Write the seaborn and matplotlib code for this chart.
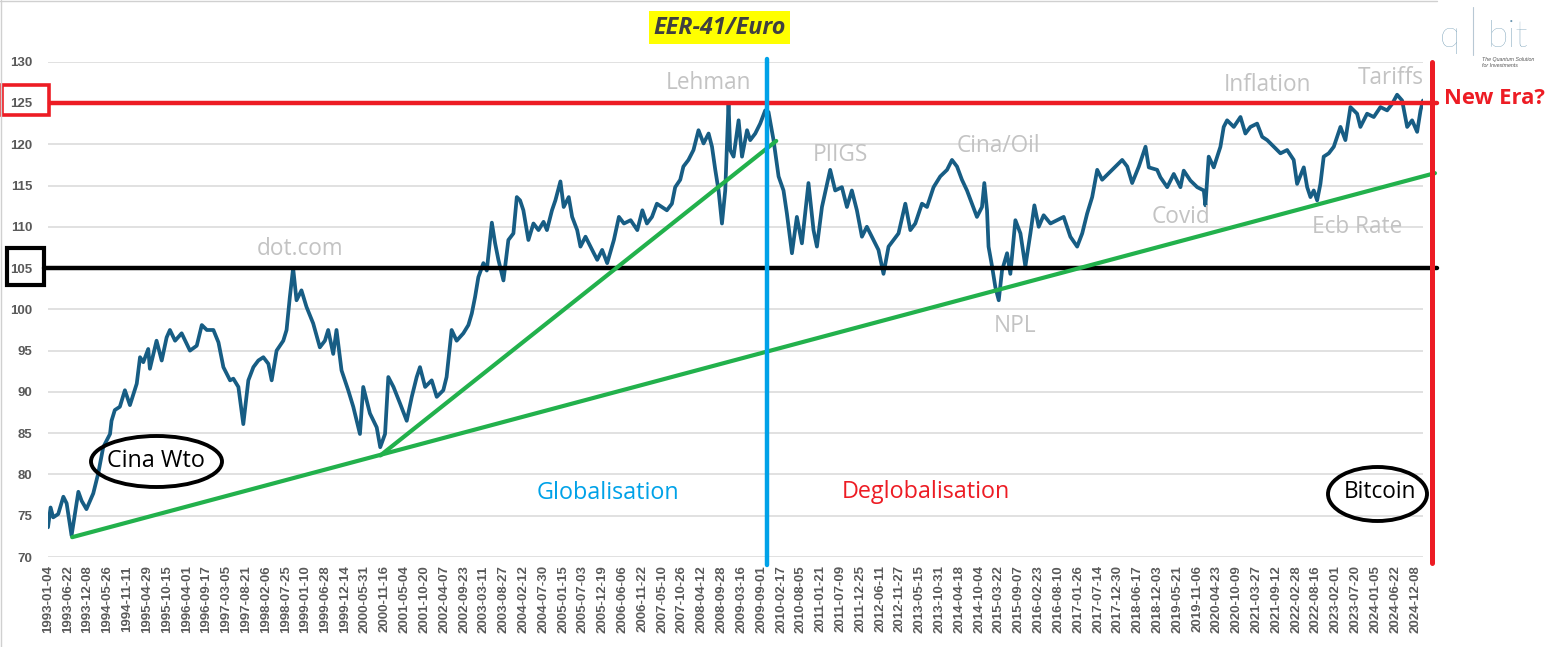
import pandas as pd
import matplotlib.pyplot as plt
import seaborn as sns
from matplotlib.patches import Rectangle, Ellipse
from matplotlib.lines import Line2D

# EER-41 / Euro index
dates = [
    "1993-01-04", "1993-01-26", "1993-02-17", "1993-04-01", "1993-05-15", "1993-06-12", "1993-07-24", "1993-09-20", "1993-10-18", "1993-11-28",
    "1994-01-25", "1994-03-08", "1994-04-20", "1994-06-17", "1994-06-30", "1994-07-28", "1994-09-09", "1994-10-22", "1994-12-04",
    "1995-01-31", "1995-02-28", "1995-03-28", "1995-05-09", "1995-05-23", "1995-07-19", "1995-09-01", "1995-10-13", "1995-11-10", "1995-12-24",
    "1996-02-18", "1996-04-29", "1996-06-26", "1996-08-08", "1996-09-20", "1996-11-15", "1996-12-28",
    "1997-02-08", "1997-04-06", "1997-05-04", "1997-06-16", "1997-07-28", "1997-09-09", "1997-10-22", "1997-12-03",
    "1998-01-15", "1998-02-27", "1998-03-27", "1998-05-08", "1998-07-04", "1998-08-01", "1998-08-29", "1998-09-26", "1998-10-25", "1998-12-06",
    "1999-01-18", "1999-03-16", "1999-05-12", "1999-06-24", "1999-07-22", "1999-09-03", "1999-10-01", "1999-11-13",
    "2000-01-09", "2000-02-21", "2000-04-18", "2000-05-16", "2000-07-12", "2000-09-08", "2000-10-08", "2000-11-18", "2000-12-16",
    "2001-01-29", "2001-03-26", "2001-05-22", "2001-07-04", "2001-08-15", "2001-09-12", "2001-10-26", "2001-12-21",
    "2002-02-02", "2002-03-30", "2002-04-27", "2002-06-09", "2002-07-22", "2002-09-17", "2002-10-30", "2002-11-28", "2002-12-26",
    "2003-01-23", "2003-03-07", "2003-04-05", "2003-05-18", "2003-06-15", "2003-07-13", "2003-08-25", "2003-10-06", "2003-11-18", "2003-12-17",
    "2004-01-14", "2004-02-11", "2004-03-25", "2004-05-07", "2004-06-19", "2004-08-01", "2004-08-30", "2004-10-12", "2004-11-10", "2004-12-23",
    "2005-01-20", "2005-03-04", "2005-04-02", "2005-05-15", "2005-06-12", "2005-07-25", "2005-08-22", "2005-10-04", "2005-11-02", "2005-12-14",
    "2006-01-26", "2006-03-24", "2006-05-06", "2006-06-18", "2006-08-14", "2006-10-10", "2006-11-22", "2006-12-31",
    "2007-02-12", "2007-03-26", "2007-05-08", "2007-06-19", "2007-08-01", "2007-08-29", "2007-10-11", "2007-11-07", "2007-12-20",
    "2008-02-01", "2008-03-15", "2008-04-27", "2008-06-09", "2008-07-08", "2008-08-05", "2008-09-02", "2008-10-01", "2008-10-29", "2008-11-26", "2008-12-10",
    "2009-01-08", "2009-02-20", "2009-03-21", "2009-05-03", "2009-05-30", "2009-07-12", "2009-08-23", "2009-10-05", "2009-11-02", "2009-12-15",
    "2010-01-27", "2010-03-10", "2010-04-08", "2010-05-21", "2010-07-02", "2010-08-14", "2010-10-09", "2010-11-21", "2010-12-20",
    "2011-02-01", "2011-04-12", "2011-05-25", "2011-07-21", "2011-09-02", "2011-10-14", "2011-11-26",
    "2012-01-08", "2012-02-19", "2012-04-16", "2012-05-28", "2012-07-10", "2012-08-22", "2012-10-03", "2012-11-15",
    "2013-01-12", "2013-02-24", "2013-04-07", "2013-06-03", "2013-07-16", "2013-09-10", "2013-11-06",
    "2014-01-03", "2014-02-14", "2014-03-29", "2014-05-10", "2014-06-22", "2014-08-04", "2014-09-15", "2014-10-28", "2014-11-17", "2014-12-10", "2014-12-23",
    "2015-01-22", "2015-02-19", "2015-03-20", "2015-04-17", "2015-05-30", "2015-06-27", "2015-08-09", "2015-09-21", "2015-11-02", "2015-12-15",
    "2016-01-18", "2016-02-24", "2016-04-06", "2016-06-03", "2016-07-30", "2016-09-24", "2016-11-20",
    "2017-01-17", "2017-03-01", "2017-04-12", "2017-05-25", "2017-07-07", "2017-08-18", "2017-10-14", "2017-12-10",
    "2018-02-05", "2018-03-20", "2018-05-01", "2018-06-27", "2018-08-23", "2018-09-20", "2018-11-30", "2018-12-28",
    "2019-02-24", "2019-04-21", "2019-06-17", "2019-07-15", "2019-09-10", "2019-11-07",
    "2020-01-02", "2020-01-16", "2020-02-13", "2020-03-27", "2020-05-23", "2020-06-20", "2020-07-19", "2020-09-14", "2020-11-10", "2020-12-22",
    "2021-02-03", "2021-04-01", "2021-05-14", "2021-06-26", "2021-08-21", "2021-10-17", "2021-12-13",
    "2022-02-07", "2022-03-08", "2022-05-04", "2022-06-02", "2022-06-30", "2022-07-28", "2022-08-26", "2022-09-23", "2022-10-21", "2022-12-03",
    "2023-01-15", "2023-03-13", "2023-04-24", "2023-06-06", "2023-08-02", "2023-08-30", "2023-10-26", "2023-12-22",
    "2024-02-17", "2024-04-14", "2024-05-27", "2024-07-08", "2024-08-20", "2024-10-02", "2024-11-13", "2024-12-26",
    "2025-01-24", "2025-02-14",
]
values = [
    73.6, 76.0, 74.8, 75.2, 77.3, 76.5, 72.6, 77.9, 76.8, 75.8,
    77.7, 80.1, 83.3, 84.9, 86.5, 87.8, 88.2, 90.2, 88.4,
    91.0, 94.2, 93.6, 95.2, 92.8, 96.2, 93.8, 96.6, 97.5, 96.2,
    97.1, 95.0, 95.6, 98.1, 97.5, 97.5, 96.0,
    93.0, 91.4, 91.6, 90.6, 86.1, 91.4, 93.0, 93.8,
    94.2, 93.4, 91.4, 95.0, 96.2, 97.5, 101.5, 105.0, 101.1, 102.3,
    100.3, 98.3, 95.4, 96.2, 97.5, 94.6, 97.5, 92.6,
    90.2, 88.2, 84.9, 90.6, 87.4, 85.7, 83.3, 84.9, 91.8,
    90.6, 88.6, 86.5, 89.4, 91.8, 93.0, 90.6, 91.4,
    89.4, 90.2, 91.8, 97.5, 96.2, 97.1, 98.1, 99.5, 101.5,
    103.9, 105.6, 104.7, 110.5, 108.0, 106.0, 103.5, 108.4, 109.2, 113.6,
    113.2, 112.0, 108.4, 110.4, 109.6, 110.6, 109.6, 112.0, 113.2, 115.5,
    112.4, 113.6, 111.2, 109.6, 107.6, 108.8, 108.0, 106.8, 106.0, 107.2,
    105.6, 108.4, 111.2, 110.4, 110.8, 109.6, 112.0, 110.4,
    111.2, 112.8, 112.4, 112.0, 112.8, 114.8, 115.7, 117.3, 118.1,
    119.3, 121.7, 120.1, 121.3, 119.7, 116.9, 114.4, 110.4, 114.4, 125.0, 119.3,
    118.5, 122.9, 118.5, 121.7, 120.5, 121.3, 122.5, 124.1, 123.9, 120.5,
    116.1, 114.4, 111.6, 106.8, 111.2, 108.0, 115.3, 109.6, 107.6,
    112.4, 116.9, 114.4, 114.8, 112.4, 114.4, 112.0,
    108.8, 110.0, 108.4, 107.2, 104.3, 107.6, 108.4, 109.2,
    112.8, 109.6, 110.4, 112.8, 112.4, 114.8, 116.1,
    116.9, 118.1, 117.3, 115.7, 114.4, 112.8, 111.2, 112.4, 115.3, 112.0, 107.6,
    105.2, 102.7, 101.1, 104.7, 106.8, 104.3, 110.8, 109.2, 105.2, 109.2,
    112.6, 110.0, 111.4, 110.4, 110.8, 111.2, 108.8,
    107.6, 109.2, 111.6, 113.6, 116.9, 115.7, 116.5, 117.3,
    118.1, 117.3, 115.3, 117.3, 119.7, 117.2, 116.9, 116.0,
    114.8, 116.4, 114.8, 116.8, 115.6, 114.8,
    114.4, 112.6, 118.5, 117.2, 119.7, 122.1, 122.9, 122.1, 123.3, 121.3,
    122.1, 122.5, 120.9, 120.5, 119.7, 118.9, 119.3,
    118.1, 115.2, 117.2, 114.8, 113.6, 114.4, 113.2, 115.2, 118.5, 118.9,
    119.7, 122.1, 120.5, 124.5, 123.7, 122.1, 123.7, 123.3,
    124.5, 124.1, 124.9, 126.0, 125.3, 122.1, 122.9, 121.5,
    124.1, 125.3,
]

tick_labels = [
    "1993-01-04", "1993-06-22", "1993-12-08", "1994-05-26", "1994-11-11", "1995-04-29", "1995-10-15",
    "1996-04-01", "1996-09-17", "1997-03-05", "1997-08-21", "1998-02-06", "1998-07-25", "1999-01-10",
    "1999-06-28", "1999-12-14", "2000-05-31", "2000-11-16", "2001-05-04", "2001-10-20", "2002-04-07",
    "2002-09-23", "2003-03-11", "2003-08-27", "2004-02-12", "2004-07-30", "2005-01-15", "2005-07-03",
    "2005-12-19", "2006-06-06", "2006-11-22", "2007-05-10", "2007-10-26", "2008-04-12", "2008-09-28",
    "2009-03-16", "2009-09-01", "2010-02-17", "2010-08-05", "2011-01-21", "2011-07-09", "2011-12-25",
    "2012-06-11", "2012-11-27", "2013-05-15", "2013-10-31", "2014-04-18", "2014-10-04", "2015-03-22",
    "2015-09-07", "2016-02-23", "2016-08-10", "2017-01-26", "2017-07-14", "2017-12-30", "2018-06-17",
    "2018-12-03", "2019-05-21", "2019-11-06", "2020-04-23", "2020-10-09", "2021-03-27", "2021-09-12",
    "2022-02-28", "2022-08-16", "2023-02-01", "2023-07-20", "2024-01-05", "2024-06-22", "2024-12-08",
]

# trend lines and markers drawn on top
trend_long_dates = ["1993-07-29", "2025-05-27"]
trend_long_vals = [72.4, 116.5]
trend_steep_dates = ["2000-10-09", "2010-01-07"]
trend_steep_vals = [82.3, 120.4]
split_date = "2009-10-22"
end_date = "2025-05-01"
resistance = 125
support = 105

RED = "#ed1c24"
BLUE = "#00a2e8"
GREEN = "#22b14c"
GREY = "#c3c3c3"
LINE = "#175d84"

W, H = 1547, 647
sns.set_style("white")
plt.rcParams["font.family"] = ["Liberation Sans", "DejaVu Sans"]

fig = plt.figure(figsize=(W / 100, H / 100), dpi=100)
ax = fig.add_axes([48 / W, 90 / H, 1375 / W, 495.3 / H])


def fx(x):
    return x / W


def fy(y):
    return 1 - y / H


sns.lineplot(x=pd.to_datetime(dates), y=values, ax=ax, color=LINE, linewidth=2.7, zorder=3)

ax.set_xlim(pd.Timestamp("1993-01-04"), pd.Timestamp("2025-02-14"))
ax.set_ylim(70, 130)
ax.set_yticks(range(70, 131, 5))
ax.set_xticks(pd.to_datetime(tick_labels))
ax.set_xticklabels(tick_labels, rotation=90)
ax.grid(axis="y", color="#d9d9d9", linewidth=1.1)
ax.grid(axis="x", visible=False)
ax.set_axisbelow(True)
for s in ax.spines.values():
    s.set_visible(False)
ax.tick_params(axis="y", length=0, pad=11, labelsize=9.5, labelcolor="#595959")
ax.tick_params(axis="x", length=0, pad=6, labelsize=9.5, labelcolor="#595959")
for lab in ax.get_yticklabels() + ax.get_xticklabels():
    lab.set_fontweight("bold")
ax.set_xlabel("")
ax.set_ylabel("")

# horizontal levels
ax.axhline(resistance, xmin=2 / 1375, xmax=1389 / 1375, color=RED, lw=3.2, clip_on=False, zorder=4)
ax.axhline(support, xmin=-4 / 1375, xmax=1389 / 1375, color="black", lw=3.2, clip_on=False, zorder=4)

# trend lines
ax.plot(pd.to_datetime(trend_long_dates), trend_long_vals, color=GREEN, lw=3, clip_on=False, zorder=5)
ax.plot(pd.to_datetime(trend_steep_dates), trend_steep_vals, color=GREEN, lw=3, clip_on=False, zorder=5)

# vertical separators
ax.axvline(pd.Timestamp(split_date), ymin=-0.016, ymax=1.005, color=BLUE, lw=3.2, clip_on=False, zorder=6)
ax.axvline(pd.Timestamp(end_date), ymin=-0.012, ymax=1.0, color=RED, lw=3.6, clip_on=False, zorder=6)

# boxes around 125 and 105
fig.add_artist(Rectangle((fx(1.5), fy(115)), 47 / W, 30 / H, transform=fig.transFigure,
                         fill=False, ec=RED, lw=2.6))
fig.add_artist(Rectangle((fx(6.5), fy(285)), 37 / W, 37 / H, transform=fig.transFigure,
                         fill=False, ec="black", lw=3))

# ellipses
fig.add_artist(Ellipse((fx(156.5), fy(461.5)), 131 / W, 51 / H, transform=fig.transFigure,
                       fill=False, ec="black", lw=2.8))
fig.add_artist(Ellipse((fx(1377.5), fy(494)), 99 / W, 54 / H, transform=fig.transFigure,
                       fill=False, ec="black", lw=2.8))

ann = dict(ha="center", va="center", family=["Open Sans", "DejaVu Sans"])
grey_notes = [("Lehman", 709, 83), ("dot.com", 300, 249), ("PIIGS", 840, 155),
              ("Cina/Oil", 998, 146), ("NPL", 1015, 326), ("Covid", 1181, 217),
              ("Ecb Rate", 1357, 227), ("Inflation", 1267, 85), ("Tariffs", 1391, 78)]
for txt, x, y in grey_notes:
    fig.text(fx(x), fy(y), txt, color=GREY, fontsize=16.3, fontweight="medium", **ann)

fig.text(fx(156), fy(461), "Cina Wto", color="black", fontsize=16.8, fontweight="medium", **ann)
fig.text(fx(1380), fy(492), "Bitcoin", color="black", fontsize=16.3, fontweight="medium", **ann)
fig.text(fx(608), fy(493), "Globalisation", color=BLUE, fontsize=16.8, fontweight="medium", **ann)
fig.text(fx(926), fy(492), "Deglobalisation", color=RED, fontsize=16.8, fontweight="medium", **ann)
fig.text(fx(1494), fy(99), "New Era?", color=RED, fontsize=15.8, fontweight="bold", **ann)

fig.text(fx(719.5), fy(27.5), "EER-41/Euro", color="#404040", fontsize=16.8, fontweight="bold",
         fontstyle="italic", ha="center", va="center", family=["Open Sans", "DejaVu Sans"],
         bbox=dict(boxstyle="square,pad=0.18", fc="#ffff00", ec="none"))

# logo
LOGO = "#6a96b0"
fig.text(fx(1450), fy(47), "q", color=LOGO, fontsize=27, family=["Lato", "DejaVu Sans"],
         fontweight="light", ha="center", va="baseline")
fig.text(fx(1507.5), fy(47), "bit", color=LOGO, fontsize=27, family=["Lato", "DejaVu Sans"],
         fontweight="light", ha="center", va="baseline")
fig.add_artist(Line2D([fx(1473), fx(1473)], [fy(7), fy(55)], transform=fig.transFigure,
                      color="#b8c8d4", lw=0.8))
fig.text(fx(1482), fy(62.5), "The Quantum Solution\nfor Investments", color="#555555",
         fontsize=3.8, fontstyle="italic", ha="left", va="center", linespacing=1.2)

# faint frame around the chart image
fig.add_artist(Line2D([fx(0.5), fx(0.5)], [0, 1], transform=fig.transFigure, color="#d0d0d0", lw=1))
fig.add_artist(Line2D([0, fx(1437)], [fy(0.5), fy(0.5)], transform=fig.transFigure, color="#d0d0d0", lw=1))

fig.savefig("out.png", dpi=100)
